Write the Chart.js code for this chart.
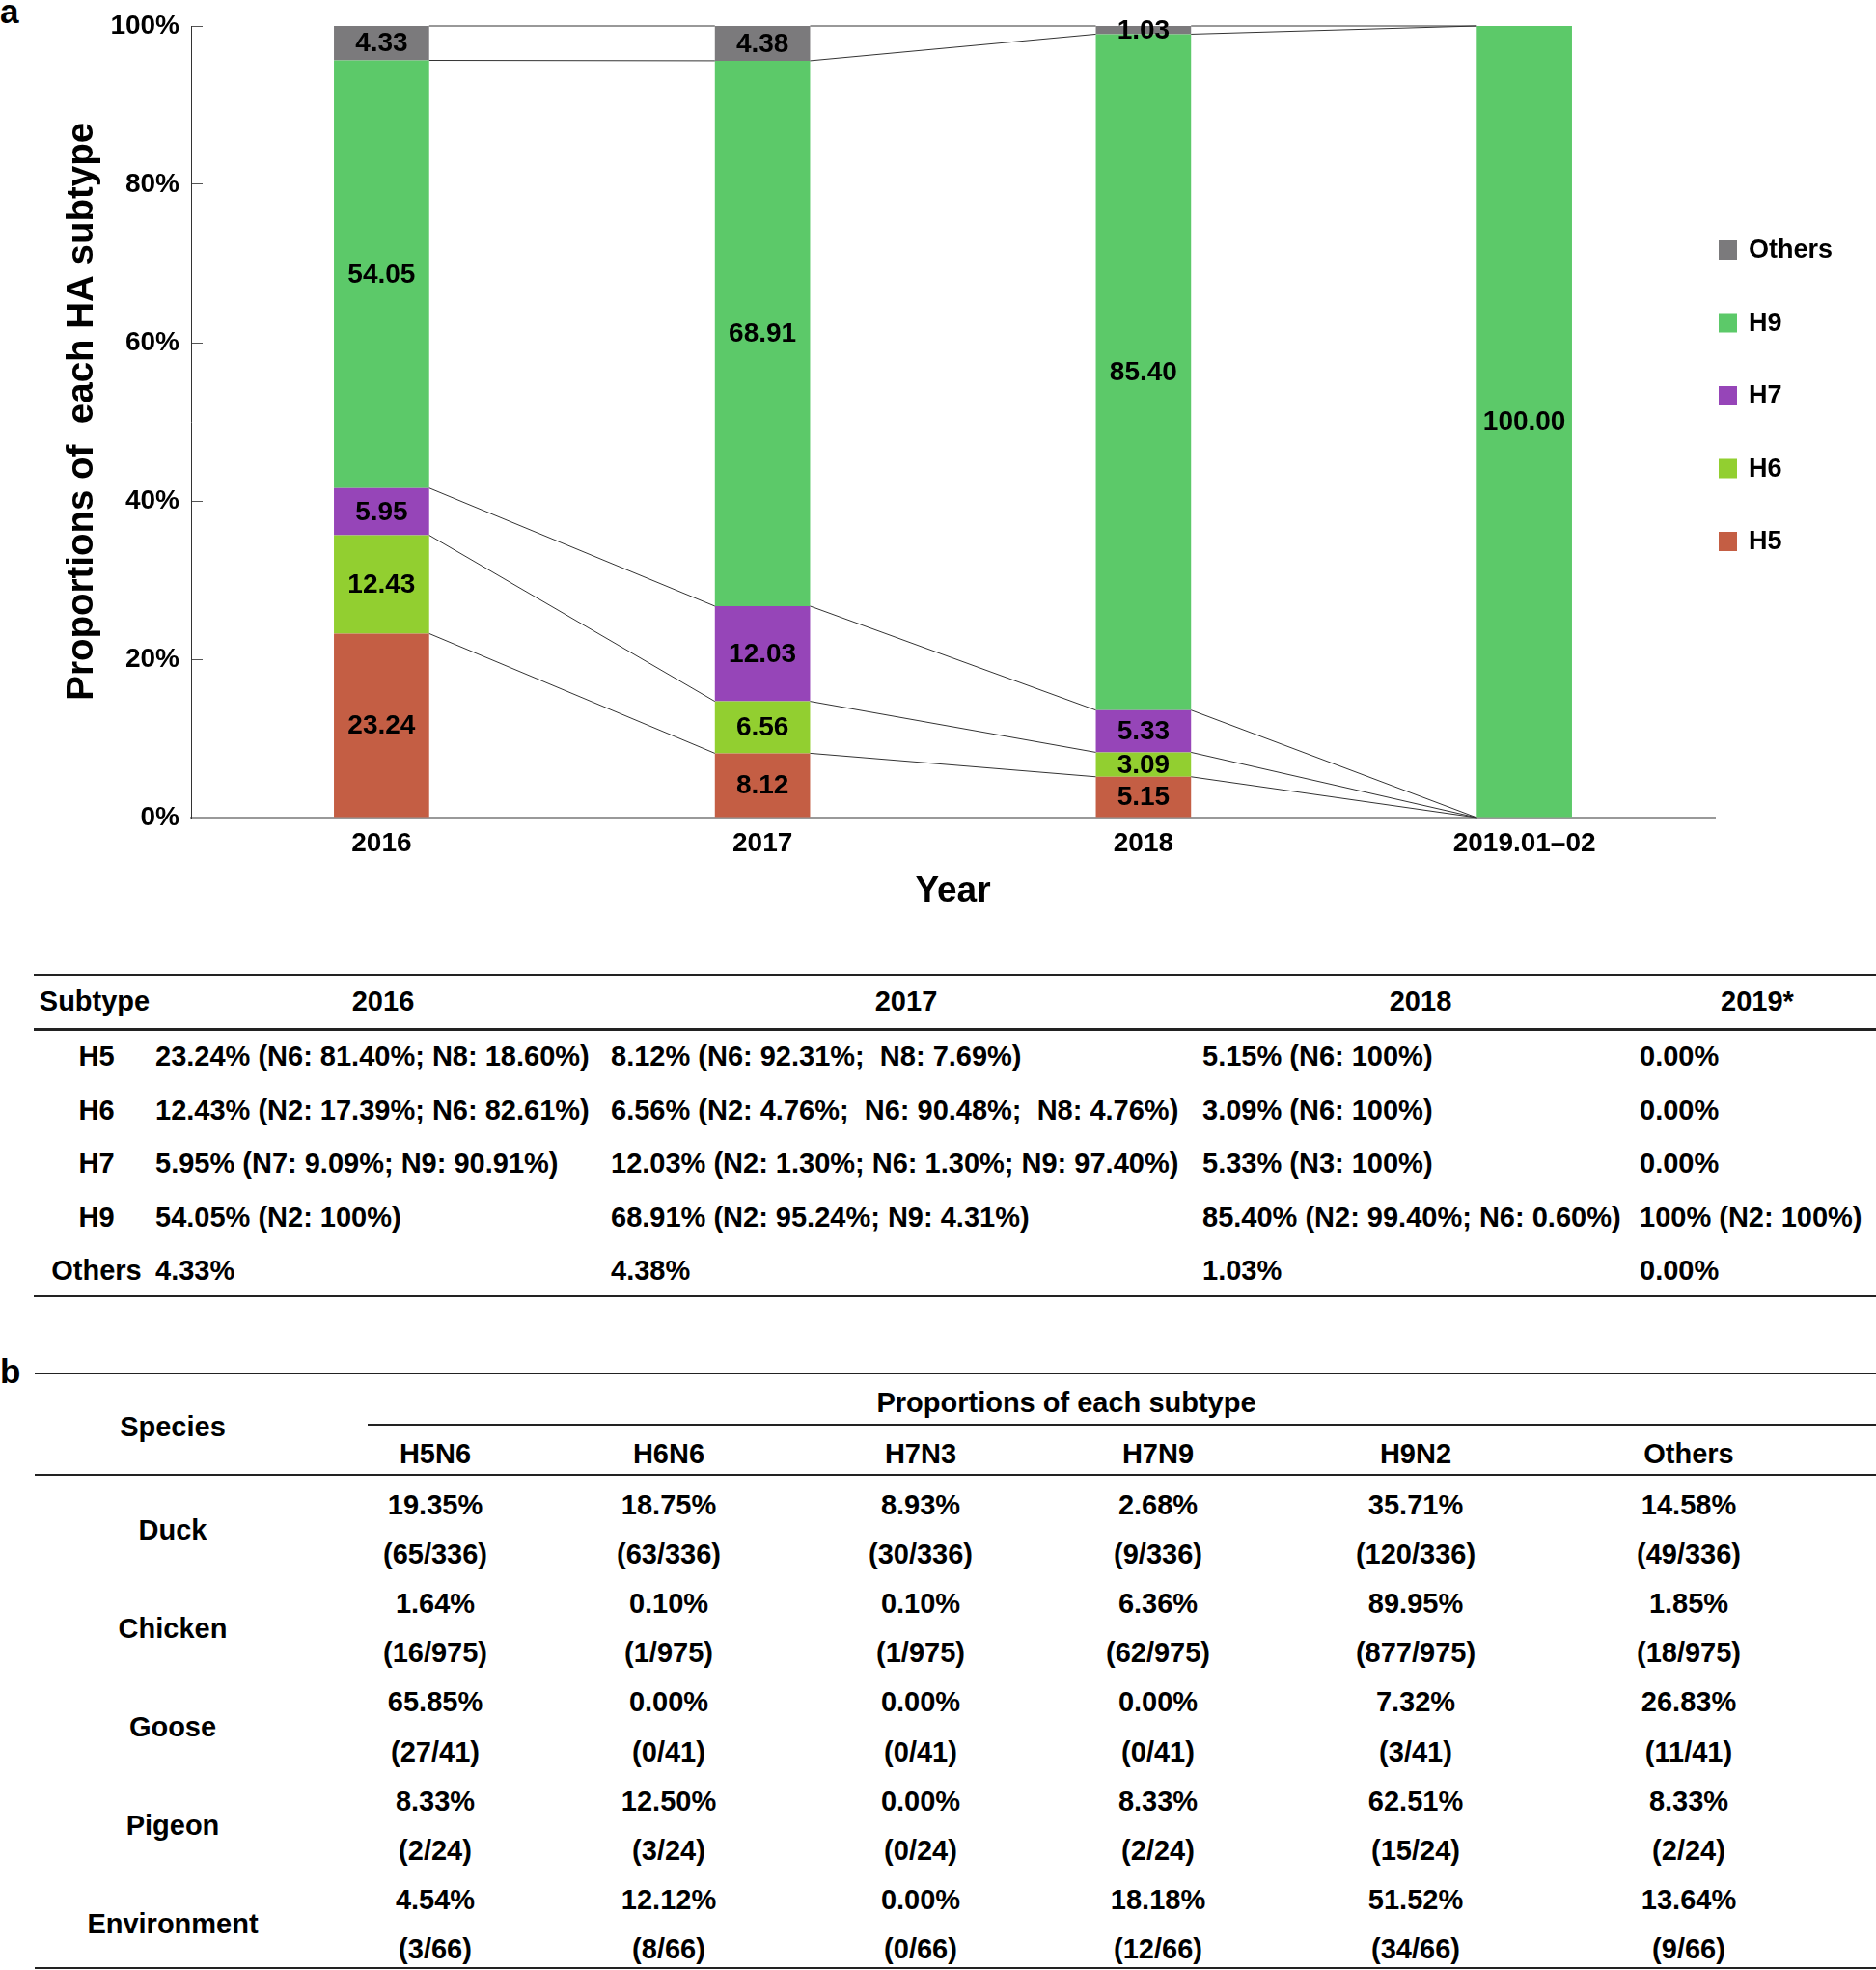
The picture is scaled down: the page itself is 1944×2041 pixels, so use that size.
<!DOCTYPE html>
<html>
<head>
<meta charset="utf-8">
<script src="https://cdn.jsdelivr.net/npm/chart.js@4.4.1/dist/chart.umd.min.js"></script>
<style>
  html, body { margin: 0; padding: 0; background: #fff; }
  body { width: 1944px; height: 2041px; position: relative; overflow: hidden;
         font-family: "Liberation Sans", Arial, Helvetica, sans-serif; color: #000; }
  #chartBox { position: absolute; left: 0; top: 0; width: 1944px; height: 960px; }
  .t { position: absolute; font-size: 29px; line-height: 29px; font-weight: bold; white-space: pre; transform: translateY(-50%); }
  .c { transform: translate(-50%, -50%); }
  .rule { position: absolute; background: #222; }
  .panel { position: absolute; font-size: 35px; line-height: 35px; font-weight: bold; }
</style>
</head>
<body>
<div class="panel" style="left:0;top:-6px">a</div>
<div class="panel" style="left:0;top:1403px">b</div>
<div id="chartBox"><canvas id="haChart" width="1944" height="960"></canvas></div>
<div id="tables"></div>

<script>
// ── Data (panel a, stacked bars) ────────────────────────────────────
const years = ['2016', '2017', '2018', '2019.01\u201302'];
const h5 = [23.24, 8.12, 5.15, 0];
const h6 = [12.43, 6.56, 3.09, 0];
const h7 = [5.95, 12.03, 5.33, 0];
const h9 = [54.05, 68.91, 85.40, 100];
const others = [4.33, 4.38, 1.03, 0];
const yTicks = [0, 20, 40, 60, 80, 100];

// ── Data (panel a, table) ───────────────────────────────────────────
const tableYears = ['2016', '2017', '2018', '2019*'];
const subtypeRows = ['H5', 'H6', 'H7', 'H9', 'Others'];
const col2016 = ['23.24% (N6: 81.40%; N8: 18.60%)', '12.43% (N2: 17.39%; N6: 82.61%)', '5.95% (N7: 9.09%; N9: 90.91%)', '54.05% (N2: 100%)', '4.33%'];
const col2017 = ['8.12% (N6: 92.31%;  N8: 7.69%)', '6.56% (N2: 4.76%;  N6: 90.48%;  N8: 4.76%)', '12.03% (N2: 1.30%; N6: 1.30%; N9: 97.40%)', '68.91% (N2: 95.24%; N9: 4.31%)', '4.38%'];
const col2018 = ['5.15% (N6: 100%)', '3.09% (N6: 100%)', '5.33% (N3: 100%)', '85.40% (N2: 99.40%; N6: 0.60%)', '1.03%'];
const col2019 = ['0.00%', '0.00%', '0.00%', '100% (N2: 100%)', '0.00%'];

// ── Data (panel b, table) ───────────────────────────────────────────
const species = ['Duck', 'Chicken', 'Goose', 'Pigeon', 'Environment'];
const bSubtypes = ['H5N6', 'H6N6', 'H7N3', 'H7N9', 'H9N2', 'Others'];
const bPct = [
  ['19.35%', '18.75%', '8.93%', '2.68%', '35.71%', '14.58%'],
  ['1.64%', '0.10%', '0.10%', '6.36%', '89.95%', '1.85%'],
  ['65.85%', '0.00%', '0.00%', '0.00%', '7.32%', '26.83%'],
  ['8.33%', '12.50%', '0.00%', '8.33%', '62.51%', '8.33%'],
  ['4.54%', '12.12%', '0.00%', '18.18%', '51.52%', '13.64%']
];
const bCount = [
  ['(65/336)', '(63/336)', '(30/336)', '(9/336)', '(120/336)', '(49/336)'],
  ['(16/975)', '(1/975)', '(1/975)', '(62/975)', '(877/975)', '(18/975)'],
  ['(27/41)', '(0/41)', '(0/41)', '(0/41)', '(3/41)', '(11/41)'],
  ['(2/24)', '(3/24)', '(0/24)', '(2/24)', '(15/24)', '(2/24)'],
  ['(3/66)', '(8/66)', '(0/66)', '(12/66)', '(34/66)', '(9/66)']
];

const FONT = '"Liberation Sans", Arial, Helvetica, sans-serif';

// ── Plugin: value labels in each segment ────────────────────────────
const segmentLabels = {
  id: 'segmentLabels',
  afterDatasetsDraw(chart) {
    const ctx = chart.ctx;
    ctx.save();
    ctx.font = 'bold 28px ' + FONT;
    ctx.fillStyle = '#000';
    ctx.textAlign = 'center';
    ctx.textBaseline = 'middle';
    chart.data.datasets.forEach(function(ds, i) {
      chart.getDatasetMeta(i).data.forEach(function(bar, j) {
        const v = ds.data[j];
        if (!v) return;
        ctx.fillText(v.toFixed(2), bar.x, (bar.y + bar.base) / 2 + 1);
      });
    });
    ctx.restore();
  }
};

// ── Plugin: thin lines joining segment tops between bars ────────────
const joinLines = {
  id: 'joinLines',
  afterDatasetsDraw(chart) {
    const ctx = chart.ctx;
    ctx.save();
    ctx.strokeStyle = '#333';
    ctx.lineWidth = 1;
    chart.data.datasets.forEach(function(ds, i) {
      const bars = chart.getDatasetMeta(i).data;
      for (let j = 0; j < bars.length - 1; j++) {
        const a = bars[j], b = bars[j + 1];
        ctx.beginPath();
        ctx.moveTo(a.x + a.width / 2, a.y);
        ctx.lineTo(b.x - b.width / 2, b.y);
        ctx.stroke();
      }
    });
    ctx.restore();
  }
};

// ── Plugin: legend on the right (top entry = top of stack) ──────────
const sideLegend = {
  id: 'sideLegend',
  afterDraw(chart) {
    const ctx = chart.ctx;
    const area = chart.chartArea;
    const x0 = area.right + 4;
    const y0 = area.top + 232;
    const step = 75.5;
    ctx.save();
    ctx.font = 'bold 27px ' + FONT;
    ctx.textAlign = 'left';
    ctx.textBaseline = 'middle';
    const list = chart.data.datasets.slice().reverse();
    list.forEach(function(ds, k) {
      const cy = y0 + k * step;
      ctx.fillStyle = ds.backgroundColor;
      ctx.fillRect(x0, cy - 10, 19, 20);
      ctx.fillStyle = '#000';
      ctx.fillText(ds.label, x0 + 31, cy + 1);
    });
    ctx.restore();
  }
};

new Chart(document.getElementById('haChart'), {
  type: 'bar',
  data: {
    labels: years,
    datasets: [
      { label: 'H5', data: h5, backgroundColor: '#c45e44' },
      { label: 'H6', data: h6, backgroundColor: '#92cf30' },
      { label: 'H7', data: h7, backgroundColor: '#9645b8' },
      { label: 'H9', data: h9, backgroundColor: '#5cc969' },
      { label: 'Others', data: others, backgroundColor: '#7b7a7c' }
    ]
  },
  options: {
    responsive: false,
    animation: false,
    devicePixelRatio: 1,
    categoryPercentage: 1,
    barPercentage: 0.25,
    layout: { padding: { left: 0, right: 167, top: 27, bottom: 0 } },
    plugins: { legend: { display: false }, tooltip: { enabled: false } },
    scales: {
      x: {
        stacked: true,
        grid: { display: false, drawTicks: false },
        border: { display: true, color: '#999', width: 2 },
        ticks: { color: '#000', padding: 10, font: { family: FONT, size: 28, weight: 'bold' } },
        title: { display: true, text: 'Year', color: '#000', padding: { top: 0, bottom: 18 },
                 font: { family: FONT, size: 37, weight: 'bold', lineHeight: 1 } },
        afterFit: function(s) { s.height = 113; s.paddingLeft = 0; s.paddingRight = 0; }
      },
      y: {
        stacked: true,
        min: 0, max: 100,
        afterBuildTicks: function(s) { s.ticks = yTicks.map(v => ({ value: v })); },
        ticks: { color: '#000', padding: 24, callback: v => v + '%',
                 font: { family: FONT, size: 28, weight: 'bold' } },
        grid: { drawOnChartArea: false, drawTicks: true, tickLength: -12, color: '#555', lineWidth: 1 },
        border: { display: true, color: '#333', width: 1 },
        title: { display: true, text: '  Proportions of  each HA subtype', color: '#000', padding: { top: 66, bottom: 0 },
                 font: { family: FONT, size: 38.5, weight: 'bold', lineHeight: 1 } },
        afterFit: function(s) { s.width = 198; s.paddingTop = 0; s.paddingBottom = 0; }
      }
    }
  },
  plugins: [joinLines, segmentLabels, sideLegend]
});

// ── Tables ──────────────────────────────────────────────────────────
const host = document.getElementById('tables');
function put(text, x, y, centered) {
  const d = document.createElement('div');
  d.className = centered ? 't c' : 't';
  d.style.left = x + 'px';
  d.style.top = y + 'px';
  d.textContent = text;
  host.appendChild(d);
}
function rule(x1, x2, y, h) {
  const d = document.createElement('div');
  d.className = 'rule';
  d.style.left = x1 + 'px';
  d.style.width = (x2 - x1) + 'px';
  d.style.top = (y - h / 2) + 'px';
  d.style.height = h + 'px';
  host.appendChild(d);
}

// panel a table
const aHeadX = [397, 939, 1472, 1821];
const aDataX = [161, 633, 1246, 1699];
const aCols = [col2016, col2017, col2018, col2019];
rule(35, 1944, 1010, 2);
rule(35, 1944, 1066, 3);
rule(35, 1944, 1343, 2);
put('Subtype', 98, 1037, true);
tableYears.forEach((y, k) => put(y, aHeadX[k], 1037, true));
subtypeRows.forEach(function(s, r) {
  const y = 1094 + r * 55.5;
  put(s, 100, y, true);
  aCols.forEach((col, k) => put(col[r], aDataX[k], y, false));
});

// panel b table
const bColX = [451, 693, 954, 1200, 1467, 1750];
rule(36, 1944, 1423, 2);
rule(381, 1944, 1476, 2);
rule(36, 1944, 1528, 2);
rule(36, 1944, 2039, 2);
put('Species', 179, 1478, true);
put('Proportions of each subtype', 1105, 1453, true);
bSubtypes.forEach((s, k) => put(s, bColX[k], 1506, true));
species.forEach(function(sp, r) {
  const y1 = 1559 + r * 102.2;
  const y2 = y1 + 51.1;
  put(sp, 179, (y1 + y2) / 2, true);
  bColX.forEach(function(x, k) {
    put(bPct[r][k], x, y1, true);
    put(bCount[r][k], x, y2, true);
  });
});
</script>
</body>
</html>
